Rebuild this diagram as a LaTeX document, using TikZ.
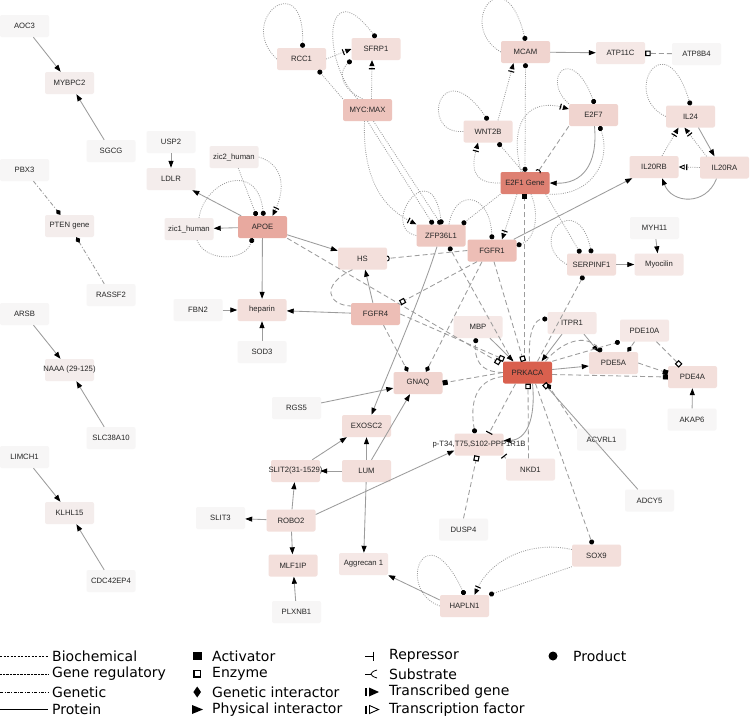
\documentclass[tikz,border=0pt]{standalone}
\usepackage{fontspec}
\setmainfont{Liberation Sans}
\newfontfamily\legendfont{DejaVu Sans}
\usetikzlibrary{arrows.meta}
\definecolor{cPK}{HTML}{D9604E}
\definecolor{cE2}{HTML}{DE8072}
\definecolor{cAP}{HTML}{E8A99F}
\definecolor{cMM}{HTML}{EDC3BC}
\definecolor{cFG}{HTML}{EDBEB6}
\definecolor{cZF}{HTML}{EEC8C1}
\definecolor{cMC}{HTML}{F0D4CF}
\definecolor{cLa}{HTML}{F3DFDB}
\definecolor{cLb}{HTML}{F5E8E6}
\definecolor{cLc}{HTML}{F4EDEC}
\definecolor{cLd}{HTML}{F7F6F6}
\definecolor{lgray}{HTML}{9C9C9C}
\newcommand\boxtxt[1]{\makebox[0pt]{#1}}
\tikzset{
 nd/.style={rectangle, rounded corners=2pt, minimum width=49pt, minimum height=22pt, inner sep=1pt, font=\fontsize{7.7}{9}\selectfont, text=black!85},
 kPK/.style={nd,fill=cPK}, kE2/.style={nd,fill=cE2}, kAP/.style={nd,fill=cAP},
 kMM/.style={nd,fill=cMM}, kFG/.style={nd,fill=cFG}, kZF/.style={nd,fill=cZF},
 kMC/.style={nd,fill=cMC}, kLa/.style={nd,fill=cLa}, kLb/.style={nd,fill=cLb},
 kLc/.style={nd,fill=cLc}, kLd/.style={nd,fill=cLd},
 ln/.style={draw=lgray, line width=0.85pt},
 bio/.style={ln, dash pattern=on 5pt off 3pt},
 reg/.style={ln, line width=0.8pt, dash pattern=on 0.9pt off 1.3pt},
 gnt/.style={ln, dash pattern=on 4pt off 2pt on 1pt off 2pt},
 prot/.style={ln},
 phys/.style={-{Triangle[color=black,length=7pt,width=5pt]}},
 actv/.style={-{Square[color=black,length=5pt]}},
 enz/.style={-{Square[open,color=black,length=5.5pt,line width=1.1pt]}},
 gi/.style={-{Turned Square[color=black,length=6.5pt,width=5pt]}},
 rep/.style={-{Bar[color=black,width=7pt,line width=1.1pt]}},
 sub/.style={-{Arc Barb[color=black,reversed,length=2.5pt,width=6pt,line width=1pt]}},
 tg/.style={-{Bar[color=black,width=6pt,line width=1.1pt,sep=2pt]Triangle[color=black,length=6pt,width=5pt]}},
 tf/.style={-{Bar[color=black,width=6pt,line width=1.2pt,sep=1.5pt]Triangle[open,color=black,length=6pt,width=5pt,line width=0.9pt]}},
 prod/.style={-{Circle[color=black,length=5pt]}},
 lgt/.style={anchor=west, font=\legendfont\fontsize{14}{16}\selectfont, inner sep=0pt, text=black},
}
\begin{document}
\begin{tikzpicture}[x=1pt,y=-1pt]
\fill[white] (0,0) rectangle (750,718);
\useasboundingbox (0,0) rectangle (750,718);

% ---------------- nodes ----------------
\node[kLd] (AOC3) at (24.5,26) {\boxtxt{AOC3}};
\node[kLc] (MYBPC2) at (69.5,83) {\boxtxt{MYBPC2}};
\node[kLd] (SGCG) at (111,151) {\boxtxt{SGCG}};
\node[kLd] (PBX3) at (24.5,170) {\boxtxt{PBX3}};
\node[kLc] (PTEN) at (69.5,226) {\boxtxt{PTEN gene}};
\node[kLd] (RASSF2) at (111,295) {\boxtxt{RASSF2}};
\node[kLd] (ARSB) at (24.5,314) {\boxtxt{ARSB}};
\node[kLc] (NAAA) at (69.5,370) {\boxtxt{NAAA (29-125)}};
\node[kLd] (SLC) at (111,438) {\boxtxt{SLC38A10}};
\node[kLd] (LIMCH1) at (24.5,457) {\boxtxt{LIMCH1}};
\node[kLc] (KLHL15) at (69.5,513) {\boxtxt{KLHL15}};
\node[kLd] (CDC) at (111,581) {\boxtxt{CDC42EP4}};

\node[kLd] (USP2) at (171,142) {\boxtxt{USP2}};
\node[kLc] (LDLR) at (171,179) {\boxtxt{LDLR}};
\node[kLc] (zic2) at (234,157) {\boxtxt{zic2\_human}};
\node[kLc] (zic1) at (189,229) {\boxtxt{zic1\_human}};
\node[kAP] (APOE) at (262.5,227) {\boxtxt{APOE}};
\node[kLa] (heparin) at (262,310) {\boxtxt{heparin}};
\node[kLd] (FBN2) at (198,310) {\boxtxt{FBN2}};
\node[kLd] (SOD3) at (262,352) {\boxtxt{SOD3}};

\node[kLa] (RCC1) at (301.5,59) {\boxtxt{RCC1}};
\node[kLa] (SFRP1) at (376,49) {\boxtxt{SFRP1}};
\node[kMM] (MYCMAX) at (367.5,110) {\boxtxt{MYC:MAX}};
\node[kZF] (ZFP) at (441,235.5) {\boxtxt{ZFP36L1}};
\node[kLa] (HS) at (362.5,258.5) {\boxtxt{HS}};
\node[kFG] (FGFR4) at (375.5,314) {\boxtxt{FGFR4}};
\node[kFG] (FGFR1) at (492,250.5) {\boxtxt{FGFR1}};
\node[kMC] (GNAQ) at (418,383) {\boxtxt{GNAQ}};
\node[kLd] (RGS5) at (296.5,408) {\boxtxt{RGS5}};
\node[kLa] (EXOSC2) at (366.5,426) {\boxtxt{EXOSC2}};
\node[kLa] (SLIT2) at (295.5,471) {\boxtxt{SLIT2(31-1529)}};
\node[kLa] (LUM) at (366.5,471) {\boxtxt{LUM}};
\node[kLd] (SLIT3) at (220.5,518) {\boxtxt{SLIT3}};
\node[kLa] (ROBO2) at (291,520.5) {\boxtxt{ROBO2}};
\node[kLa] (MLF1IP) at (293,565.5) {\boxtxt{MLF1IP}};
\node[kLb] (Aggrecan) at (363.5,564) {\boxtxt{Aggrecan 1}};
\node[kLd] (PLXNB1) at (296.5,612) {\boxtxt{PLXNB1}};

\node[kMC] (MCAM) at (525.5,52) {\boxtxt{MCAM}};
\node[kLb] (ATP11C) at (620.5,53) {\boxtxt{ATP11C}};
\node[kLd] (ATP8B4) at (696.5,54) {\boxtxt{ATP8B4}};
\node[kLa] (WNT2B) at (488,131.5) {\boxtxt{WNT2B}};
\node[kMC] (E2F7) at (593.5,115) {\boxtxt{E2F7}};
\node[kE2] (E2F1) at (525,183) {\boxtxt{E2F1 Gene}};
\node[kLa] (IL24) at (690.5,116.5) {\boxtxt{IL24}};
\node[kLa] (IL20RB) at (654,167) {\boxtxt{IL20RB}};
\node[kLa] (IL20RA) at (724.5,167.5) {\boxtxt{IL20RA}};
\node[kLd] (MYH11) at (654.5,228) {\boxtxt{MYH11}};
\node[kLa] (SERPINF1) at (591.5,264.5) {\boxtxt{SERPINF1}};
\node[kLb] (Myocilin) at (659,264.5) {\boxtxt{Myocilin}};
\node[kLb] (MBP) at (478,327) {\boxtxt{MBP}};
\node[kLb] (ITPR1) at (572,323) {\boxtxt{ITPR1}};
\node[kLb] (PDE10A) at (644.5,330.5) {\boxtxt{PDE10A}};
\node[kPK] (PRKACA) at (527.5,372.5) {\boxtxt{PRKACA}};
\node[kLa] (PDE5A) at (613.5,363) {\boxtxt{PDE5A}};
\node[kLa] (PDE4A) at (692.5,377) {\boxtxt{PDE4A}};
\node[kLd] (AKAP6) at (692,419.5) {\boxtxt{AKAP6}};
\node[kLd] (ACVRL1) at (601.5,439.5) {\boxtxt{ACVRL1}};
\node[kLa] (pT34) at (479,444.5) {\boxtxt{p-T34,T75,S102-PPP1R1B}};
\node[kLb] (NKD1) at (530.5,469.5) {\boxtxt{NKD1}};
\node[kLd] (ADCY5) at (649.5,500.5) {\boxtxt{ADCY5}};
\node[kLd] (DUSP4) at (463.5,529.5) {\boxtxt{DUSP4}};
\node[kLa] (SOX9) at (596.5,555.5) {\boxtxt{SOX9}};
\node[kLa] (HAPLN1) at (464.5,606) {\boxtxt{HAPLN1}};

% ---------------- edges: left column ----------------
\draw[prot,phys] (AOC3) -- (MYBPC2);
\draw[prot,phys] (SGCG) -- (MYBPC2);
\draw[gnt,gi] (PBX3) -- (PTEN);
\draw[gnt,gi] (RASSF2) -- (PTEN);
\draw[prot,phys] (ARSB) -- (NAAA);
\draw[prot,phys] (SLC) -- (NAAA);
\draw[prot,phys] (LIMCH1) -- (KLHL15);
\draw[prot,phys] (CDC) -- (KLHL15);

% ---------------- APOE ----------------
\draw[prot,phys] (USP2) -- (LDLR);
\draw[prot,phys] (APOE) -- (LDLR);
\draw[prot,phys] (APOE) -- (zic1);
\draw[reg,prod] (zic2) -- ([xshift=-6pt]APOE.north);
\draw[reg,tg] (zic2.east) .. controls (285,165) and (285,190) .. ([xshift=10pt]APOE.north);
\draw[reg,prod] ([xshift=10pt]zic1.north) .. controls (205,180) and (258,160) .. ([xshift=1pt]APOE.north);
\draw[reg,prod] ([xshift=8pt]zic1.south) .. controls (205,262) and (245,262) .. ([xshift=-10pt]APOE.south);
\draw[prot,phys] (APOE) -- (HS);
\draw[prot,phys] (APOE) -- (heparin);
\draw[prot,phys] (FGFR4) -- (heparin);
\draw[prot,phys] (FBN2) -- (heparin);
\draw[prot,phys] (SOD3) -- (heparin);
\draw[prot,phys] (FGFR4) -- (HS);
\draw[bio] ([xshift=-10pt]HS.south) .. controls (320,285) and (328,305) .. ([yshift=8pt]FGFR4.west);
\draw[bio,enz] (APOE.south east) -- (500,363);
\draw[bio,enz] (FGFR4.east) -- (504,359.5);

% ---------------- MYC:MAX ----------------
\draw[reg,prod] (RCC1.west) .. controls (235,20) and (305,-35) .. ([xshift=1pt]RCC1.north);
\draw[reg,tg] (RCC1.east) -- (SFRP1.west);
\draw[reg,prod] ([xshift=-10pt]MYCMAX.north) .. controls (320,60) and (325,-30) .. (SFRP1.north);
\draw[reg,prod] ([xshift=-5pt]MYCMAX.north) .. controls (340,88) and (338,72) .. (SFRP1.south west);
\draw[reg,tg] ([xshift=4pt]MYCMAX.north) -- ([xshift=-4pt]SFRP1.south);
\draw[reg,prod] (MYCMAX.north west) -- ([xshift=-8pt]RCC1.south east);
\draw[reg,prod] (MYCMAX.south) -- ([xshift=-8pt]ZFP.north);
\draw[reg,prod] ([xshift=6pt]MYCMAX.south) -- (ZFP.north);
\draw[reg,tg] ([xshift=-3pt]MYCMAX.south) .. controls (362,190) and (392,212) .. (ZFP.north west);
\draw[reg,prod] (ZFP.west) .. controls (378,228) and (432,150) .. ([xshift=0.5pt]ZFP.north);
\draw[reg,prod] ([xshift=8pt]ZFP.north) .. controls (455,188) and (490,192) .. (FGFR1.north);

% ---------------- E2F1 ----------------
\draw[bio,actv] ([xshift=-3pt]PRKACA.north) -- ([xshift=-0.5pt]E2F1.south);
\draw[bio,sub] (E2F7.south west) -- ([xshift=13pt]E2F1.north);
\draw[prot,phys] ([xshift=1pt]E2F7.south) .. controls (598,165) and (582,184) .. (E2F1.east);
\draw[reg,prod] (E2F1.south east) .. controls (592,196) and (612,160) .. ([xshift=6pt]E2F7.south);
\draw[reg,tg] ([xshift=-4pt]E2F1.north) .. controls (508,120) and (530,98) .. ([yshift=6pt]E2F7.west);
\draw[reg,prod] (E2F7.north west) .. controls (540,78) and (572,42) .. ([xshift=1pt]E2F7.north);
\draw[reg,{Circle[color=black,length=5pt]}-{Circle[color=black,length=5pt]}] (E2F1.north) -- (MCAM.south);
\draw[reg,tg] ([xshift=10pt]WNT2B.north) -- ([xshift=-12pt]MCAM.south);
\draw[reg,prod] (MCAM.west) .. controls (455,25) and (505,-45) .. (MCAM.north);
\draw[reg,prod] (WNT2B.west) .. controls (418,135) and (440,50) .. (WNT2B.north);
\draw[reg,tg] (E2F1.west) .. controls (470,184) and (472,165) .. ([xshift=-10pt]WNT2B.south);
\draw[reg,prod] ([xshift=-2pt]E2F1.north) -- ([xshift=10pt]WNT2B.south);
\draw[reg,prod] (E2F1.south west) -- ([xshift=21pt]ZFP.north);
\draw[reg,tg] ([xshift=-8pt]E2F1.south) -- ([xshift=10pt]FGFR1.north);
\draw[reg,prod] ([xshift=-4pt]E2F1.south east) -- ([xshift=-11pt]SERPINF1.north);
\draw[reg,prod] ([xshift=6pt]E2F1.south) .. controls (540,215) and (535,240) .. ([yshift=5pt]FGFR1.east);
\draw[reg,prod] (SERPINF1.west) .. controls (525,240) and (578,188) .. (SERPINF1.north);

% ---------------- IL ----------------
\draw[reg,prod] (IL24.west) .. controls (620,95) and (665,20) .. (IL24.north);
\draw[prot,phys] ([xshift=8pt]IL24.south) -- ([xshift=-10pt]IL20RA.north);
\draw[reg,tf] (IL20RA.west) -- (IL20RB.east);
\draw[prot,phys] ([xshift=-8pt]IL20RA.south) .. controls (706,206) and (672,204) .. ([xshift=8pt]IL20RB.south);
\draw[reg,tg] ([xshift=8pt]IL20RB.north) -- ([xshift=-12pt]IL24.south);
\draw[reg,tg] ([xshift=-18pt]IL20RA.north) -- ([xshift=-6pt]IL24.south);
\draw[prot,phys] (FGFR1) -- (IL20RB);

% ---------------- ATP ----------------
\draw[prot,phys] (MCAM) -- (ATP11C);
\draw[bio,enz] (ATP8B4) -- (ATP11C);

% ---------------- FGFR / PRKACA ----------------
\draw[bio,sub] (FGFR1.west) -- (HS.east);
\draw[bio,enz] ([xshift=-15pt]FGFR1.south) -- (FGFR4.north east);
\draw[bio,gi] ([xshift=8pt]FGFR4.south) -- ([xshift=-10pt]GNAQ.north);
\draw[bio,gi] ([xshift=-10pt]FGFR1.south) -- ([xshift=8pt]GNAQ.north);
\draw[bio,enz] ([xshift=2pt]FGFR1.south) -- ([xshift=-4pt]PRKACA.north);
\draw[bio,prod] ([xshift=-15pt]PRKACA.north) -- ([xshift=8pt]ZFP.south);
\draw[bio,actv] (PRKACA.west) -- (GNAQ.east);
\draw[prot,phys] ([xshift=-4pt]ZFP.south) .. controls (420,300) and (385,380) .. ([xshift=5pt]EXOSC2.north);
\draw[prot,phys] (RGS5) -- (GNAQ);
\draw[prot,phys] ([xshift=5pt]LUM.north) -- ([xshift=-8pt]GNAQ.south);
\draw[prot,phys] (LUM) -- (EXOSC2);
\draw[prot,phys] ([xshift=-8pt]SLIT2.north east) -- ([xshift=5pt]EXOSC2.south west);
\draw[prot,phys] (LUM) -- (SLIT2);
\draw[prot,phys] (LUM) -- (Aggrecan);
\draw[prot,phys] (ROBO2) -- (SLIT2);
\draw[prot,phys] (ROBO2) -- (SLIT3);
\draw[prot,phys] (ROBO2) -- (MLF1IP);
\draw[prot,phys] (PLXNB1) -- (MLF1IP);
\draw[prot,phys] ([yshift=6pt]ROBO2.east) -- ([yshift=-6pt]pT34.west);

\draw[prot,phys] ([xshift=12pt]MBP.south) -- ([xshift=-14pt]PRKACA.north);
\draw[bio,prod] (PRKACA.west) .. controls (480,372) and (474,360) .. ([xshift=-2pt]MBP.south);
\draw[bio,prod] ([yshift=-4pt]PRKACA.west) .. controls (474,380) and (470,405) .. ([xshift=-4pt]pT34.north);
\draw[bio,rep] ([xshift=-12pt]PRKACA.south) -- ([xshift=10pt]pT34.north);
\draw[prot,phys] ([xshift=5pt]PRKACA.south) .. controls (536,420) and (526,440) .. ([yshift=4pt]pT34.east);
\draw[bio,enz] ([xshift=-2pt]NKD1.north) -- ([xshift=0.5pt]PRKACA.south);
\draw[bio,rep] (NKD1.north west) -- (pT34.south east);
\draw[bio,enz] (DUSP4.north) -- ([xshift=-2pt]pT34.south);
\draw[bio,prod] ([xshift=8pt]PRKACA.south) -- ([xshift=-4pt]SOX9.north);
\draw[prot,enz] ([xshift=13pt]ADCY5.north west) -- ([xshift=-8pt]PRKACA.south east);
\draw[bio,gi] (ACVRL1.north west) -- ([xshift=-5pt]PRKACA.south east);
\draw[prot,phys] ([xshift=-10pt]ITPR1.south) -- ([xshift=14pt]PRKACA.north);
\draw[bio,prod] ([xshift=2pt]PRKACA.north) .. controls (528,330) and (535,319) .. ([yshift=4pt]ITPR1.west);
\draw[prot,phys] ([xshift=12pt]ITPR1.south) -- ([xshift=-15pt]PDE5A.north);
\draw[bio,prod] ([xshift=18pt]PRKACA.north) .. controls (560,343) and (585,332) .. ([xshift=-12pt]PDE5A.north);
\draw[bio,prod] (PRKACA.north east) -- (PDE10A.south west);
\draw[bio,gi] ([xshift=-10pt]PDE10A.south) -- ([xshift=14pt]PDE5A.north);
\draw[bio,enz] ([xshift=12pt]PDE10A.south) -- ([xshift=-12pt]PDE4A.north);
\draw[bio,actv] (PDE5A.east) -- ([yshift=4pt]PDE4A.west);
\draw[bio,actv] ([yshift=-2pt]PRKACA.east) -- (PDE4A.west);
\draw[prot,phys] ([yshift=3pt]PRKACA.east) -- ([yshift=-3pt]PDE5A.west);
\draw[prot,phys] (AKAP6) -- (PDE4A);
\draw[bio,prod] ([xshift=10pt]PRKACA.north) -- ([xshift=-8pt]SERPINF1.south);
\draw[prot,phys] (MYH11) -- (Myocilin);
\draw[prot,phys] (SERPINF1) -- (Myocilin);

% ---------------- HAPLN1 ----------------
\draw[reg,prod] (HAPLN1.west) .. controls (395,590) and (425,510) .. (HAPLN1.north);
\draw[reg,tg] ([yshift=6pt]SOX9.west) .. controls (530,540) and (490,560) .. ([xshift=10pt]HAPLN1.north);
\draw[reg,prod] (SOX9.south west) -- (HAPLN1.north east);
\draw[prot,phys] ([yshift=6pt]HAPLN1.west) -- (Aggrecan.south east);

% ---------------- legend ----------------
\draw[black, line width=0.6pt, dash pattern=on 2.2pt off 1.3pt] (0,656) -- (48,656);
\draw[black, line width=0.6pt, dash pattern=on 0.6pt off 0.8pt] (0,674) -- (48,674);
\draw[black, line width=0.6pt, dash pattern=on 3pt off 1.5pt on 0.8pt off 1.5pt] (0,692) -- (48,692);
\draw[black, line width=0.7pt] (0,709.5) -- (48,709.5);
\node[lgt] (lg1) at (52,656) {Biochemical};
\node[lgt] (lg2) at (52,674) {Gene regulatory};
\node[lgt] (lg3) at (52,692) {Genetic};
\node[lgt] (lg4) at (52,709.5) {Protein};

\fill[black] (193,651.5) rectangle (201.5,660);
\draw[black, line width=1.5pt] (194,670.5) rectangle (200.5,677);
\fill[black] (197.2,686.5) -- (201,692) -- (197.2,697.5) -- (193.4,692) -- cycle;
\fill[black] (192,705) -- (203,709.5) -- (192,714) -- cycle;
\node[lgt] (lg5) at (212,656) {Activator};
\node[lgt] (lg6) at (212,674) {Enzyme};
\node[lgt] (lg7) at (212,692) {Genetic interactor};
\node[lgt] (lg8) at (212,709.5) {Physical interactor};

\draw[black, line width=0.7pt] (365,656) -- (373,656);
\draw[black, line width=0.9pt] (373,651.5) -- (373,660.5);
\draw[black, line width=0.7pt] (365,674) -- (371,674);
\draw[black, line width=0.8pt] (377,670) .. controls (373,671) and (371,673) .. (371,674) .. controls (371,675) and (373,677) .. (377,678);
\draw[black, line width=1.2pt] (366,688) -- (366,696);
\fill[black] (369,687.5) -- (379,692) -- (369,696.5) -- cycle;
\draw[black, line width=1.2pt] (366,705.5) -- (366,713.5);
\draw[black, line width=0.9pt] (369.5,705.5) -- (378.5,709.5) -- (369.5,713.5) -- cycle;
\node[lgt] (lg9) at (389,656) {Repressor};
\node[lgt] (lg10) at (389,674) {Substrate};
\node[lgt] (lg11) at (389,692) {Transcribed gene};
\node[lgt] (lg12) at (389,709.5) {Transcription factor};

\fill[black] (553,656) circle (4.5);
\node[lgt] (lg13) at (573,656) {Product};
\end{tikzpicture}
\end{document}
